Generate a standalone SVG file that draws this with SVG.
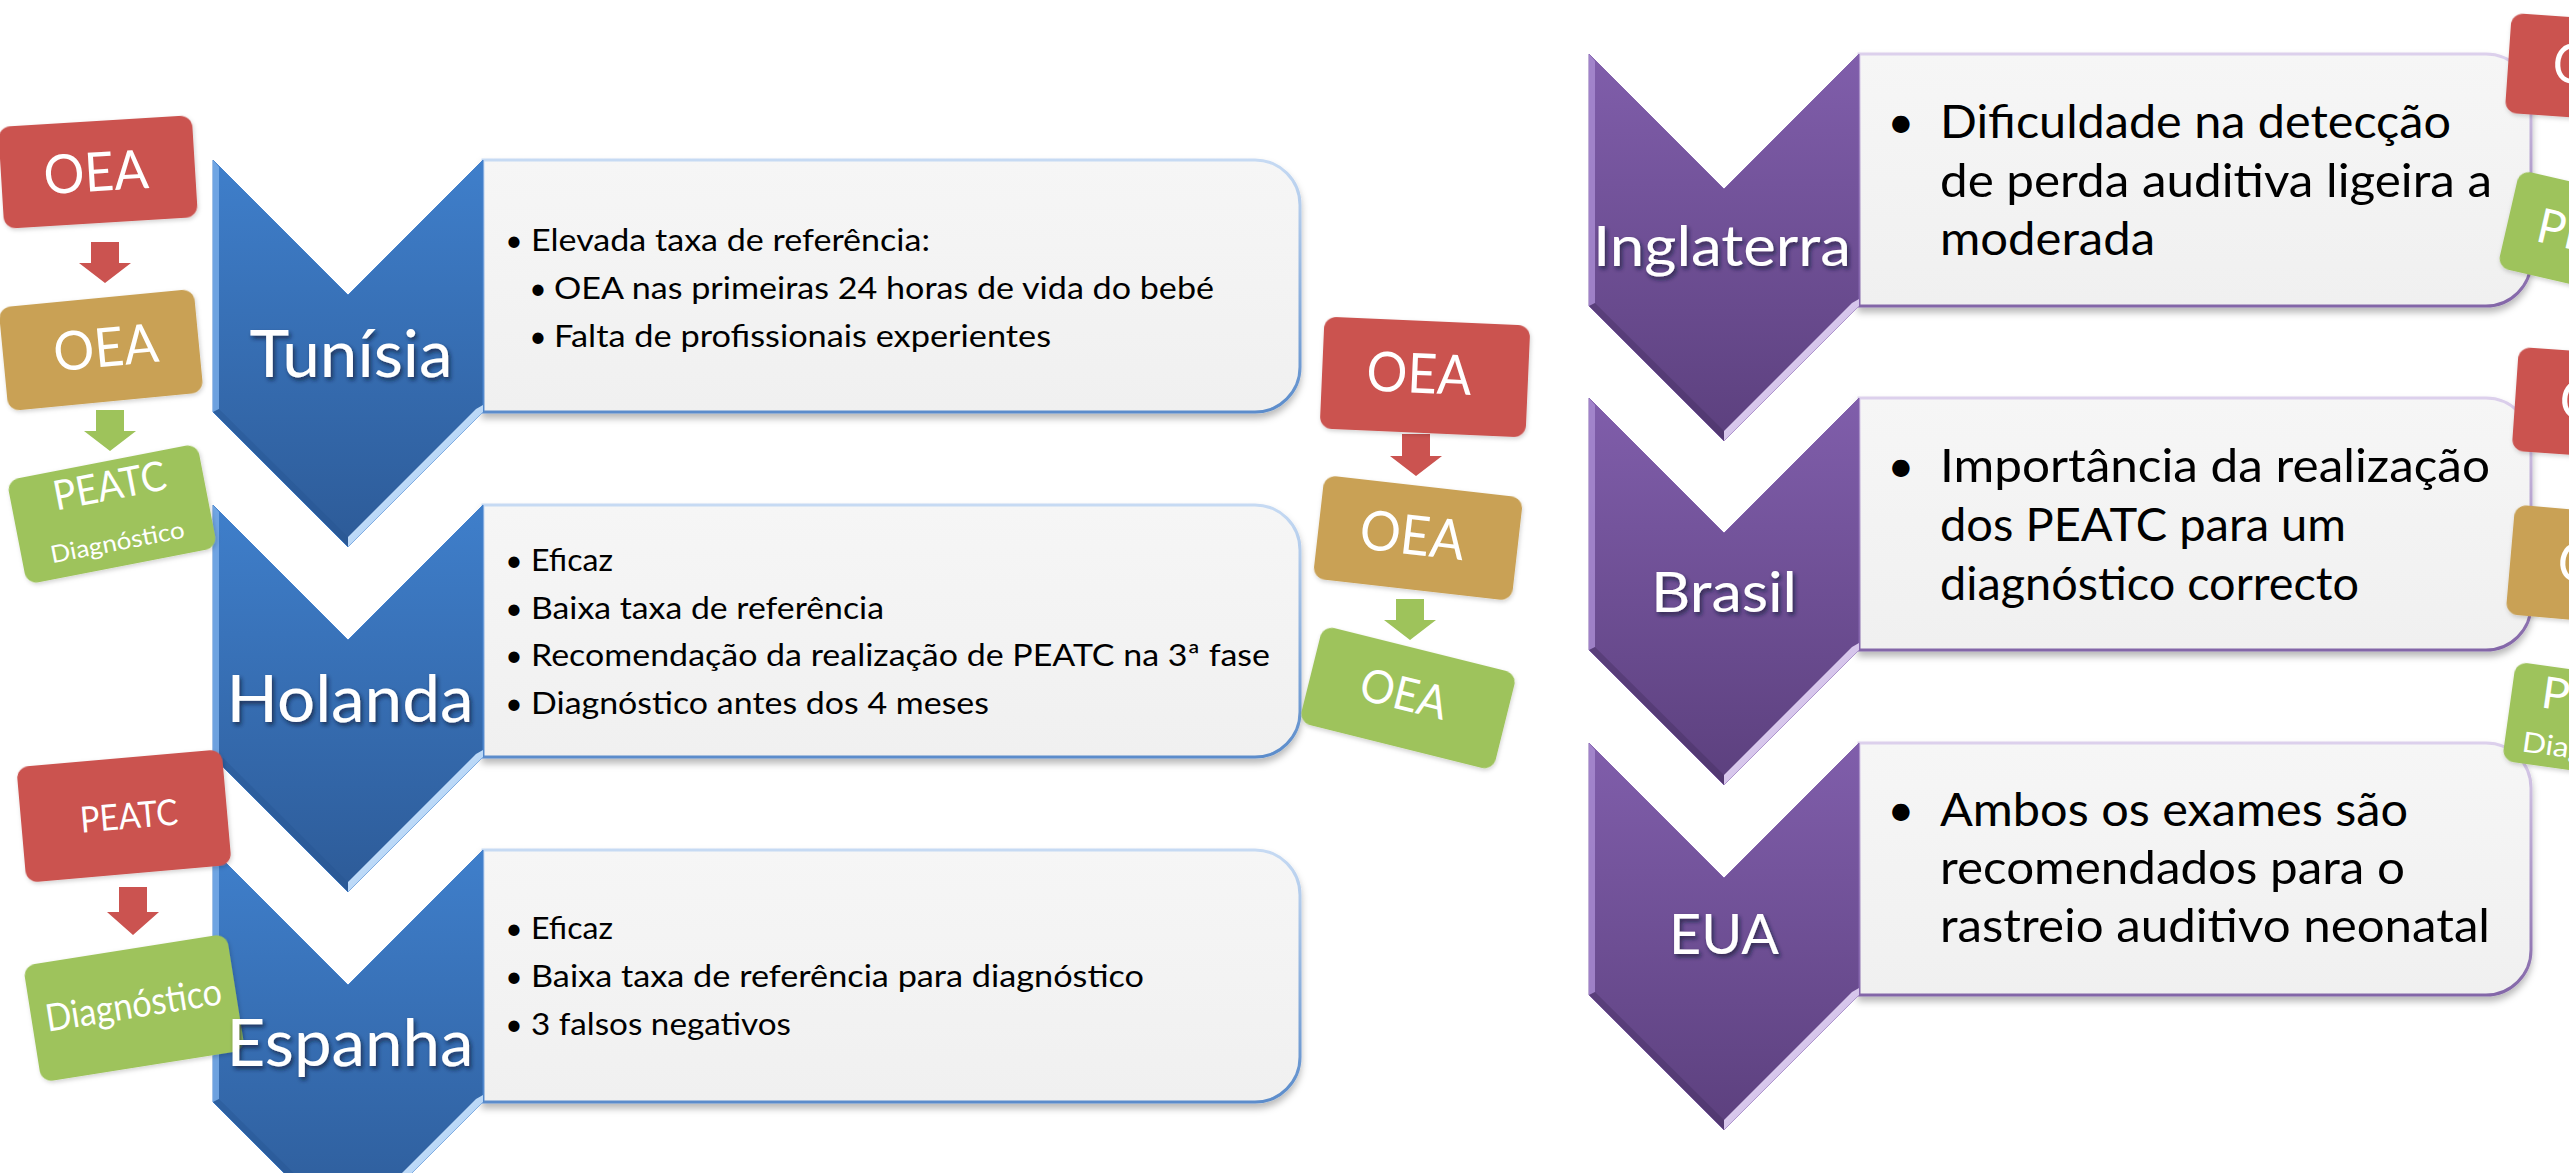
<svg xmlns="http://www.w3.org/2000/svg" xmlns:xlink="http://www.w3.org/1999/xlink" width="2569" height="1173" viewBox="0 0 2569 1173">
<defs>
  <linearGradient id="gBlue" x1="0" y1="0" x2="0" y2="1">
    <stop offset="0" stop-color="#3F7FCB"/>
    <stop offset="1" stop-color="#2D5B98"/>
  </linearGradient>
  <linearGradient id="gPurple" x1="0" y1="0" x2="0" y2="1">
    <stop offset="0" stop-color="#805EAB"/>
    <stop offset="1" stop-color="#5C407E"/>
  </linearGradient>
  <linearGradient id="gBevelBlue" x1="0" y1="0" x2="1" y2="1">
    <stop offset="0" stop-color="#EAF4FF"/>
    <stop offset="1" stop-color="#8CBDF0"/>
  </linearGradient>
  <linearGradient id="gBevelPurple" x1="0" y1="0" x2="1" y2="1">
    <stop offset="0" stop-color="#F2EAFB"/>
    <stop offset="1" stop-color="#BBA2DC"/>
  </linearGradient>
  <linearGradient id="gBoxFill" x1="0" y1="0" x2="0" y2="1">
    <stop offset="0" stop-color="#F6F6F6"/>
    <stop offset="1" stop-color="#F0F0F0"/>
  </linearGradient>
  <linearGradient id="gBlueStroke" x1="0" y1="0" x2="0" y2="1">
    <stop offset="0" stop-color="#C6DAF3"/>
    <stop offset="1" stop-color="#5B8CCB"/>
  </linearGradient>
  <linearGradient id="gPurpleStroke" x1="0" y1="0" x2="0" y2="1">
    <stop offset="0" stop-color="#DCD0EC"/>
    <stop offset="1" stop-color="#8366A8"/>
  </linearGradient>
  <filter id="boxShadow" x="-5%" y="-10%" width="110%" height="125%">
    <feDropShadow dx="0" dy="5" stdDeviation="3.5" flood-color="#000" flood-opacity="0.28"/>
  </filter>
  <filter id="txtShadow" x="-10%" y="-30%" width="125%" height="160%">
    <feDropShadow dx="2" dy="3" stdDeviation="2" flood-color="#0A1A30" flood-opacity="0.7"/>
  </filter>
  <filter id="tagShadow" x="-10%" y="-10%" width="120%" height="130%">
    <feDropShadow dx="1" dy="2" stdDeviation="2" flood-color="#000" flood-opacity="0.18"/>
  </filter>
  <g id="chevBlue">
    <path d="M0,0 L135,135 L270,0 V252 L135,387 L0,252 Z" fill="url(#gBlue)" stroke="#4682CC" stroke-width="1"/>
    <polygon points="270,245 270,252 135,387 135,377 263,249" fill="url(#gBevelBlue)"/>
    <polygon points="0,0 6,7 6,249 0,252" fill="#78ABE8" opacity="0.85"/>
    <polygon points="0,252 6,249 135,377 135,387" fill="#24528E" opacity="0.35"/>
  </g>
  <g id="chevPurple">
    <path d="M0,0 L135,135 L270,0 V252 L135,387 L0,252 Z" fill="url(#gPurple)" stroke="#8565AE" stroke-width="1"/>
    <polygon points="270,245 270,252 135,387 135,377 263,249" fill="url(#gBevelPurple)"/>
    <polygon points="0,0 6,7 6,249 0,252" fill="#A789D0" opacity="0.85"/>
    <polygon points="0,252 6,249 135,377 135,387" fill="#3E2A58" opacity="0.35"/>
  </g>
</defs>
<style>
  text{font-family:Lato,"Open Sans","Liberation Sans",sans-serif}
  .box-blue{fill:url(#gBoxFill);stroke:url(#gBlueStroke);stroke-width:3;filter:url(#boxShadow)}
  .box-purple{fill:url(#gBoxFill);stroke:url(#gPurpleStroke);stroke-width:3;filter:url(#boxShadow)}
  .chev-label{fill:#FFFFFF;filter:url(#txtShadow)}
  .lb{font-size:66px}
  .lp{font-size:56px}
  .bt{font-size:30px;fill:#000}
  .pt{font-size:47px;fill:#000}
  .bul{text-anchor:middle}
  .red{fill:#CB5350}
  .orange{fill:#C9A155}
  .green{fill:#9EC35B}
  .tag rect{filter:url(#tagShadow)}
  .tag text{fill:#FFFFFF;text-anchor:middle}
</style>
<rect x="0" y="0" width="2569" height="1173" fill="#FFFFFF"/>

<!-- Left column: text boxes and chevrons -->
<g id="node-tunisia">
  <path class="box-blue" d="M483,160 H1255 A45,45 0 0 1 1300,205 V367 A45,45 0 0 1 1255,412 H483 Z"/>
  <use xlink:href="#chevBlue" href="#chevBlue" x="213" y="160"/>
  <text class="chev-label lb" x="351" y="377" text-anchor="middle" textLength="203" lengthAdjust="spacingAndGlyphs">Tunísia</text>
  <text class="bt bul" x="514" y="251">•</text>
  <text class="bt" x="531" y="251" textLength="399" lengthAdjust="spacingAndGlyphs">Elevada taxa de referência:</text>
  <text class="bt bul" x="538" y="299">•</text>
  <text class="bt" x="554" y="299" textLength="660" lengthAdjust="spacingAndGlyphs">OEA nas primeiras 24 horas de vida do bebé</text>
  <text class="bt bul" x="538" y="347">•</text>
  <text class="bt" x="554" y="347" textLength="497" lengthAdjust="spacingAndGlyphs">Falta de profissionais experientes</text>
</g>

<g id="node-holanda">
  <path class="box-blue" d="M483,505 H1255 A45,45 0 0 1 1300,550 V712 A45,45 0 0 1 1255,757 H483 Z"/>
  <use xlink:href="#chevBlue" href="#chevBlue" x="213" y="505"/>
  <text class="chev-label lb" x="350" y="722" text-anchor="middle" textLength="247" lengthAdjust="spacingAndGlyphs">Holanda</text>
  <text class="bt bul" x="514" y="571">•</text>
  <text class="bt" x="531" y="571" textLength="82" lengthAdjust="spacingAndGlyphs">Eficaz</text>
  <text class="bt bul" x="514" y="619">•</text>
  <text class="bt" x="531" y="619" textLength="353" lengthAdjust="spacingAndGlyphs">Baixa taxa de referência</text>
  <text class="bt bul" x="514" y="666">•</text>
  <text class="bt" x="531" y="666" textLength="739" lengthAdjust="spacingAndGlyphs">Recomendação da realização de PEATC na 3ª fase</text>
  <text class="bt bul" x="514" y="714">•</text>
  <text class="bt" x="531" y="714" textLength="458" lengthAdjust="spacingAndGlyphs">Diagnóstico antes dos 4 meses</text>
</g>

<g id="node-espanha">
  <path class="box-blue" d="M483,850 H1255 A45,45 0 0 1 1300,895 V1057 A45,45 0 0 1 1255,1102 H483 Z"/>
  <use xlink:href="#chevBlue" href="#chevBlue" x="213" y="850"/>
  <text class="bt bul" x="514" y="939">•</text>
  <text class="bt" x="531" y="939" textLength="82" lengthAdjust="spacingAndGlyphs">Eficaz</text>
  <text class="bt bul" x="514" y="987">•</text>
  <text class="bt" x="531" y="987" textLength="613" lengthAdjust="spacingAndGlyphs">Baixa taxa de referência para diagnóstico</text>
  <text class="bt bul" x="514" y="1035">•</text>
  <text class="bt" x="531" y="1035" textLength="260" lengthAdjust="spacingAndGlyphs">3 falsos negativos</text>
</g>

<!-- Right column: purple -->
<g id="node-inglaterra">
  <path class="box-purple" d="M1859,54 H2486 A45,45 0 0 1 2531,99 V261 A45,45 0 0 1 2486,306 H1859 Z"/>
  <use xlink:href="#chevPurple" href="#chevPurple" x="1589" y="54"/>
  <text class="chev-label lp" x="1722" y="266" text-anchor="middle" textLength="258" lengthAdjust="spacingAndGlyphs">Inglaterra</text>
  <text class="pt bul" x="1901" y="138">•</text>
  <text class="pt" x="1940" y="138" textLength="511" lengthAdjust="spacingAndGlyphs">Dificuldade na detecção</text>
  <text class="pt" x="1940" y="197" textLength="552" lengthAdjust="spacingAndGlyphs">de perda auditiva ligeira a</text>
  <text class="pt" x="1940" y="255" textLength="215" lengthAdjust="spacingAndGlyphs">moderada</text>
</g>

<g id="node-brasil">
  <path class="box-purple" d="M1859,398 H2486 A45,45 0 0 1 2531,443 V605 A45,45 0 0 1 2486,650 H1859 Z"/>
  <use xlink:href="#chevPurple" href="#chevPurple" x="1589" y="398"/>
  <text class="chev-label lp" x="1724" y="612" text-anchor="middle" textLength="146" lengthAdjust="spacingAndGlyphs">Brasil</text>
  <text class="pt bul" x="1901" y="482">•</text>
  <text class="pt" x="1940" y="482" textLength="550" lengthAdjust="spacingAndGlyphs">Importância da realização</text>
  <text class="pt" x="1940" y="541" textLength="406" lengthAdjust="spacingAndGlyphs">dos PEATC para um</text>
  <text class="pt" x="1940" y="600" textLength="419" lengthAdjust="spacingAndGlyphs">diagnóstico correcto</text>
</g>

<g id="node-eua">
  <path class="box-purple" d="M1859,743 H2486 A45,45 0 0 1 2531,788 V950 A45,45 0 0 1 2486,995 H1859 Z"/>
  <use xlink:href="#chevPurple" href="#chevPurple" x="1589" y="743"/>
  <text class="chev-label lp" x="1724" y="954" text-anchor="middle" textLength="110" lengthAdjust="spacingAndGlyphs">EUA</text>
  <text class="pt bul" x="1901" y="826">•</text>
  <text class="pt" x="1940" y="826" textLength="468" lengthAdjust="spacingAndGlyphs">Ambos os exames são</text>
  <text class="pt" x="1940" y="884" textLength="465" lengthAdjust="spacingAndGlyphs">recomendados para o</text>
  <text class="pt" x="1940" y="942" textLength="550" lengthAdjust="spacingAndGlyphs">rastreio auditivo neonatal</text>
</g>

<!-- Connectors (arrows between test boxes) -->
<g id="connectors">
  <path class="red" d="M91,242 H119 V263 H131 L105,283 L79,263 H91 Z"/>
  <path class="green" d="M96,410 H124 V431 H136 L110,451 L84,431 H96 Z"/>
  <path class="red" d="M119,887 H147 V912 H159 L133,935 L107,912 H119 Z"/>
  <path class="red" d="M1402,434 H1430 V456 H1442 L1416,476 L1390,456 H1402 Z"/>
  <path class="green" d="M1396,599 H1424 V620 H1436 L1410,640 L1384,620 H1396 Z"/>
</g>

<!-- Test boxes: left column -->
<g id="tag-tunisia-oea1" class="tag" transform="translate(98,172) rotate(-3.5)">
  <rect class="red" x="-97" y="-51" width="194" height="102" rx="12"/>
  <text x="-2" y="19" font-size="54" textLength="105" lengthAdjust="spacingAndGlyphs">OEA</text>
</g>
<g id="tag-tunisia-oea2" class="tag" transform="translate(101,350) rotate(-5.5)">
  <rect class="orange" x="-98" y="-52" width="196" height="104" rx="12"/>
  <text x="5" y="17" font-size="54" textLength="105" lengthAdjust="spacingAndGlyphs">OEA</text>
</g>
<g id="tag-tunisia-peatc" class="tag" transform="translate(112,514) rotate(-11)">
  <rect class="green" x="-97" y="-53" width="194" height="106" rx="12"/>
  <text x="3" y="-14" font-size="41" textLength="114" lengthAdjust="spacingAndGlyphs">PEATC</text>
  <text x="0" y="37" font-size="24" textLength="136" lengthAdjust="spacingAndGlyphs">Diagnóstico</text>
</g>
<g id="tag-espanha-peatc" class="tag" transform="translate(124,816) rotate(-5)">
  <rect class="red" x="-103" y="-58" width="206" height="116" rx="12"/>
  <text x="5" y="13" font-size="36" textLength="98" lengthAdjust="spacingAndGlyphs">PEATC</text>
</g>
<g id="tag-espanha-diag" class="tag" transform="translate(134,1008) rotate(-9)">
  <rect class="green" x="-103" y="-59" width="206" height="118" rx="12"/>
  <text x="0" y="10" font-size="38" textLength="178" lengthAdjust="spacingAndGlyphs">Diagnóstico</text>
</g>
<g id="label-espanha">
  <text class="chev-label lb" x="350" y="1066" text-anchor="middle" textLength="247" lengthAdjust="spacingAndGlyphs">Espanha</text>
</g>

<!-- Test boxes: middle column (Holanda) -->
<g id="tag-holanda-oea1" class="tag" transform="translate(1425,377) rotate(2.5)">
  <rect class="red" x="-103" y="-56" width="206" height="112" rx="12"/>
  <text x="-6" y="16" font-size="55" textLength="105" lengthAdjust="spacingAndGlyphs">OEA</text>
</g>
<g id="tag-holanda-oea2" class="tag" transform="translate(1418,538) rotate(6.5)">
  <rect class="orange" x="-100" y="-52" width="200" height="104" rx="12"/>
  <text x="-6" y="17" font-size="55" textLength="105" lengthAdjust="spacingAndGlyphs">OEA</text>
</g>
<g id="tag-holanda-oea3" class="tag" transform="translate(1408,698) rotate(14)">
  <rect class="green" x="-100" y="-50" width="200" height="100" rx="12"/>
  <text x="-5" y="13" font-size="46" textLength="88" lengthAdjust="spacingAndGlyphs">OEA</text>
</g>

<!-- Test boxes: right edge (partly outside the picture, as in the reference) -->
<g id="tag-inglaterra-oea" class="tag" transform="translate(2611,70) rotate(4)">
  <rect class="red" x="-103" y="-50" width="206" height="100" rx="12"/>
  <text x="-6" y="16" font-size="55" textLength="105" lengthAdjust="spacingAndGlyphs">OEA</text>
</g>
<g id="tag-inglaterra-peatc" class="tag" transform="translate(2606,241) rotate(13)">
  <rect class="green" x="-100" y="-50" width="200" height="100" rx="12"/>
  <text x="0" y="16" font-size="48" textLength="140" lengthAdjust="spacingAndGlyphs">PEATC</text>
</g>
<g id="tag-brasil-oea1" class="tag" transform="translate(2618,406) rotate(4)">
  <rect class="red" x="-103" y="-52" width="206" height="104" rx="12"/>
  <text x="-6" y="16" font-size="55" textLength="105" lengthAdjust="spacingAndGlyphs">OEA</text>
</g>
<g id="tag-brasil-oea2" class="tag" transform="translate(2610,568) rotate(5)">
  <rect class="orange" x="-100" y="-55" width="200" height="110" rx="12"/>
  <text x="0" y="17" font-size="55" textLength="105" lengthAdjust="spacingAndGlyphs">OEA</text>
</g>
<g id="tag-brasil-peatc" class="tag" transform="translate(2608,725) rotate(8)">
  <rect class="green" x="-100" y="-50" width="200" height="100" rx="12"/>
  <text x="0" y="-8" font-size="44" textLength="140" lengthAdjust="spacingAndGlyphs">PEATC</text>
  <text x="0" y="38" font-size="28" textLength="165" lengthAdjust="spacingAndGlyphs">Diagnóstico</text>
</g>
</svg>
